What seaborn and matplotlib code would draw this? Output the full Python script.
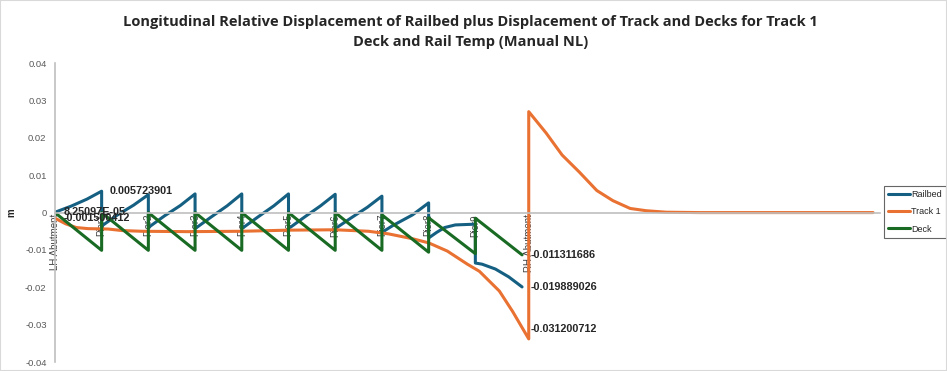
import pandas as pd
import seaborn as sns
import matplotlib.pyplot as plt
from matplotlib.patches import Rectangle
from matplotlib.ticker import FuncFormatter

# Support chainages (m) and names
supports = [0, 35, 70, 105, 140, 175, 210, 245, 280, 315, 355]
support_names = ['LH Abutment', 'Pier1', 'Pier2', 'Pier3', 'Pier4', 'Pier5',
                 'Pier6', 'Pier7', 'Pier8', 'Pier9', 'RH Abutment']

# Railbed relative displacement (m)
railbed_x = [0, 12, 24, 35,
             35, 47, 59, 70,
             70, 82, 94, 105,
             105, 117, 129, 140,
             140, 152, 164, 175,
             175, 187, 199, 210,
             210, 222, 234, 245,
             245, 253, 268, 280,
             280, 286, 292, 300, 315,
             315, 320, 330, 340, 350]
railbed_y = [0.0000825, 0.0017, 0.0036, 0.005723901,
             -0.0036, -0.0006, 0.0020, 0.0048,
             -0.0040, -0.0009, 0.0019, 0.0050,
             -0.0043, -0.0012, 0.0018, 0.0050,
             -0.0043, -0.0012, 0.0018, 0.0050,
             -0.0043, -0.0012, 0.0018, 0.0049,
             -0.0043, -0.0014, 0.0014, 0.0044,
             -0.0053, -0.0035, -0.0006, 0.0026,
             -0.0068, -0.0053, -0.0040, -0.0033, -0.0031,
             -0.0135, -0.0138, -0.0151, -0.0172, -0.019889026]

# Track 1 displacement (m)
track_x = [0, 8, 16, 25, 40, 50, 65, 100, 140, 175, 210, 235, 250, 268,
           280, 294, 309, 318, 333, 343, 355,
           355, 368, 380, 393, 406, 418, 431, 443, 458, 483, 613]
track_y = [-0.001500412, -0.0030, -0.0040, -0.0043, -0.0044, -0.0048, -0.0050,
           -0.0051, -0.0050, -0.0047, -0.0046, -0.0050, -0.0057, -0.0070,
           -0.0081, -0.0103, -0.0138, -0.0157, -0.0210, -0.0265, -0.0338,
           0.0270, 0.0213, 0.0154, 0.0108, 0.0059, 0.0032, 0.0011, 0.0005,
           0.0001, 0.0, 0.0]

# Deck displacement (m)
deck_x = [0, 35, 35, 70, 70, 105, 105, 140, 140, 175, 175, 210, 210, 245,
          245, 280, 280, 315, 315, 350]
deck_y = [0, -0.0101, 0, -0.0101, 0, -0.0101, 0, -0.0101, 0, -0.0101,
          0, -0.0101, 0, -0.0101, -0.0006, -0.0106, -0.0014, -0.0110,
          -0.0015, -0.011311686]

# Data labels: text, chainage, value
label_text = ['8.25097E-05', '-0.001500412', '0.005723901',
              '-0.011311686', '-0.019889026', '-0.031200712']
label_x = [0, 0, 35, 350, 350, 350]
label_y = [0.0000825, -0.001500412, 0.005723901,
           -0.011311686, -0.019889026, -0.031200712]

df = pd.concat([
    pd.DataFrame({'x': railbed_x, 'y': railbed_y, 'series': 'Railbed'}),
    pd.DataFrame({'x': track_x, 'y': track_y, 'series': 'Track 1'}),
    pd.DataFrame({'x': deck_x, 'y': deck_y, 'series': 'Deck'}),
], ignore_index=True)

sns.set_style('white')
plt.rcParams['font.family'] = ['Liberation Sans', 'DejaVu Sans']

palette = {'Railbed': '#156082', 'Track 1': '#E97132', 'Deck': '#196B24'}

fig = plt.figure(figsize=(9.47, 3.71), dpi=100)
ax = fig.add_axes([0.058, 0.024, 0.871, 0.806])

sns.lineplot(data=df, x='x', y='y', hue='series', palette=palette,
             sort=False, estimator=None, lw=2.2, ax=ax)

ax.set_xlim(0, 618)
ax.set_ylim(-0.04, 0.04)
ax.set_yticks([-0.04, -0.03, -0.02, -0.01, 0, 0.01, 0.02, 0.03, 0.04])
ax.yaxis.set_major_formatter(FuncFormatter(lambda v, p: f'{v:g}' if abs(v) > 1e-9 else '0'))
ax.set_xticks(supports)
ax.set_xticklabels(support_names)

for s in ['top', 'right']:
    ax.spines[s].set_visible(False)
ax.spines['bottom'].set_position(('data', 0))
for s in ['left', 'bottom']:
    ax.spines[s].set_color('#bfbfbf')
    ax.spines[s].set_linewidth(1.2)

ax.tick_params(axis='x', length=0, pad=1, labelsize=7, colors='#404040',
               labelrotation=90)
ax.tick_params(axis='y', length=0, pad=6, labelsize=6.8, colors='#595959')
ax.set_xlabel('')
ax.set_ylabel('m', fontweight='bold', fontsize=7, rotation=90)
ax.yaxis.set_label_coords(-0.047, 0.5)

for t, x, y in zip(label_text, label_x, label_y):
    ax.annotate(t, xy=(x, y), xytext=(6, 0), textcoords='offset points',
                ha='left', va='center', fontsize=7.8, fontweight='bold')

fig.text(0.497, 0.914,
         'Longitudinal Relative Displacement of Railbed plus Displacement of Track and Decks for Track 1\n'
         'Deck and Rail Temp (Manual NL)',
         ha='center', va='center', fontsize=10.5, fontweight='bold',
         linespacing=1.55, family=['Open Sans', 'DejaVu Sans'])

old = ax.get_legend()
handles = old.legend_handles
labels = [t.get_text() for t in old.get_texts()]
leg = ax.legend(handles, labels, loc='center left', bbox_to_anchor=(0.933, 0.4286),
                bbox_transform=fig.transFigure, fontsize=6.5, frameon=True,
                fancybox=False, handlelength=2.4, handletextpad=0.15,
                borderpad=0.5, labelspacing=0.9, borderaxespad=0)
leg.get_frame().set_edgecolor('#404040')
leg.get_frame().set_linewidth(0.8)

fig.add_artist(Rectangle((0, 0), 1, 1, transform=fig.transFigure, fill=False,
                         ec='#d9d9d9', lw=1.5))

fig.savefig('out.png', dpi=100)
